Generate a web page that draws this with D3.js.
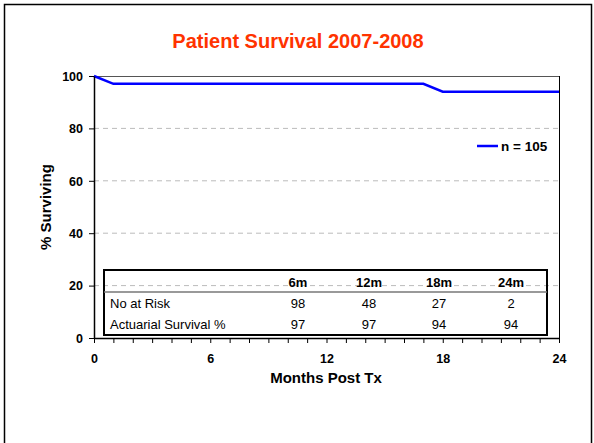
<!DOCTYPE html>
<html><head><meta charset="utf-8">
<script src="https://cdn.jsdelivr.net/npm/d3@7"></script>
<style>
html,body{margin:0;padding:0;background:#fff;}
svg{display:block;font-family:"Liberation Sans",Arial,sans-serif;}
</style></head>
<body><svg id="c" width="594" height="443"></svg>
<script>
const titleText = "Patient Survival 2007-2008";
const months = [0, 1, 17, 18, 24];
const survival = [100, 97, 97, 94, 94];
const seriesName = "n = 105";
const xTicks = [0, 6, 12, 18, 24];
const yTicks = [0, 20, 40, 60, 80, 100];
const tableCols = ["6m", "12m", "18m", "24m"];
const tableRowLabels = ["No at Risk", "Actuarial Survival %"];
const atRisk = [98, 48, 27, 2];
const actuarial = [97, 97, 94, 94];

const svg = d3.select("#c");
const m = {l: 94, r: 559, t: 76, b: 338};
const x = d3.scaleLinear().domain([0, 24]).range([m.l, m.r]);
const y = d3.scaleLinear().domain([0, 100]).range([m.b, m.t]);

// outer frame
svg.append("rect").attr("x", 4.5).attr("y", 4.5).attr("width", 587).attr("height", 470)
  .attr("fill", "none").attr("stroke", "#000").attr("stroke-width", 1.5);

// title
svg.append("text").attr("x", 298).attr("y", 48).attr("text-anchor", "middle")
  .attr("font-size", 20).attr("font-weight", "bold").attr("fill", "#FF3300").text(titleText);

// gridlines
svg.append("g").selectAll("line").data(yTicks.filter(d => d > 0 && d < 100)).join("line")
  .attr("x1", m.l).attr("x2", m.r).attr("y1", d => y(d)).attr("y2", d => y(d))
  .attr("stroke", "#bbb").attr("stroke-dasharray", "5,4").attr("stroke-width", 1);

// plot frame top and right
svg.append("line").attr("x1", m.l).attr("x2", m.r).attr("y1", m.t + 0.5).attr("y2", m.t + 0.5)
  .attr("stroke", "#555").attr("stroke-width", 1);
svg.append("line").attr("x1", m.r + 0.5).attr("x2", m.r + 0.5).attr("y1", m.t).attr("y2", m.b)
  .attr("stroke", "#000").attr("stroke-width", 1);

// table
const tb = {x: 104, y: 270, w: 443, h: 65};
const tg = svg.append("g");
tg.append("rect").attr("x", tb.x).attr("y", tb.y).attr("width", tb.w).attr("height", tb.h)
  .attr("fill", "none").attr("stroke", "#000").attr("stroke-width", 2);
tg.append("line").attr("x1", tb.x).attr("x2", tb.x + tb.w).attr("y1", 292).attr("y2", 292)
  .attr("stroke", "#777").attr("stroke-width", 1.5);
const colX = [298, 369, 439, 511];
tg.selectAll("text.h").data(tableCols).join("text").attr("class", "h")
  .attr("x", (d, i) => colX[i]).attr("y", 287).attr("text-anchor", "middle")
  .attr("font-size", 13).attr("font-weight", "bold").attr("fill", "#000").text(d => d);
const rows = [atRisk, actuarial];
const rowY = [307.5, 329];
rows.forEach((r, ri) => {
  tg.append("text").attr("x", 110).attr("y", rowY[ri]).attr("font-size", 13).attr("fill", "#000")
    .text(tableRowLabels[ri]);
  tg.selectAll("text.r" + ri).data(r).join("text").attr("class", "r" + ri)
    .attr("x", (d, i) => colX[i]).attr("y", rowY[ri]).attr("text-anchor", "middle")
    .attr("font-size", 13).attr("fill", "#000").text(d => d);
});

// series line
svg.append("path").datum(months.map((d, i) => [d, survival[i]]))
  .attr("d", d3.line().x(d => x(d[0])).y(d => y(d[1])))
  .attr("fill", "none").attr("stroke", "#0000FF").attr("stroke-width", 2.5);

// axes
const xAxis = svg.append("g").attr("transform", `translate(0,${m.b})`)
  .call(d3.axisBottom(x).tickValues(d3.range(0, 25)).tickSize(5).tickSizeOuter(0)
    .tickFormat(d => xTicks.includes(d) ? d : ""));
xAxis.select(".domain").attr("stroke", "#000").attr("stroke-width", 1.5);
xAxis.selectAll(".tick line").attr("stroke", "#000");
xAxis.selectAll("text").attr("font-size", 12.5).attr("font-weight", "bold").attr("fill", "#000")
  .attr("font-family", "Liberation Sans, Arial, sans-serif").attr("dy", null).attr("y", 24.5);

const yAxis = svg.append("g").attr("transform", `translate(${m.l},0)`)
  .call(d3.axisLeft(y).tickValues(yTicks).tickSize(5).tickSizeOuter(0));
yAxis.select(".domain").attr("stroke", "#000").attr("stroke-width", 1.5);
yAxis.selectAll(".tick line").attr("stroke", "#000");
yAxis.selectAll("text").attr("font-size", 12.5).attr("font-weight", "bold").attr("fill", "#000")
  .attr("font-family", "Liberation Sans, Arial, sans-serif").attr("x", -11).attr("dy", "0.35em");

// axis titles
svg.append("text").attr("x", 326).attr("y", 383).attr("text-anchor", "middle")
  .attr("font-size", 15).attr("font-weight", "bold").text("Months Post Tx");
svg.append("text").attr("transform", `translate(51,${(m.t + m.b) / 2}) rotate(-90)`)
  .attr("text-anchor", "middle").attr("font-size", 15).attr("font-weight", "bold").text("% Surviving");

// legend
svg.append("line").attr("x1", 477).attr("x2", 498).attr("y1", 146).attr("y2", 146)
  .attr("stroke", "#0000FF").attr("stroke-width", 2.5);
svg.append("text").attr("x", 501).attr("y", 151).attr("font-size", 13.5).attr("font-weight", "bold")
  .text(seriesName);
</script></body></html>
